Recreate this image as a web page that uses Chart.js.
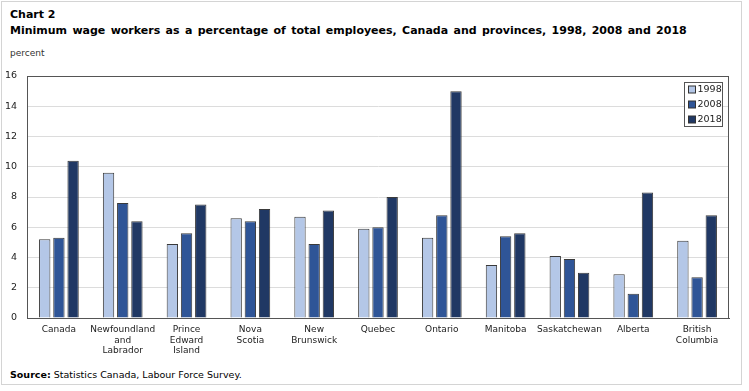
<!DOCTYPE html>
<html>
<head>
<meta charset="utf-8">
<script src="https://cdn.jsdelivr.net/npm/chart.js@4.4.1/dist/chart.umd.min.js"></script>
<style>
  html, body { margin: 0; padding: 0; background: #fff; }
  body { width: 749px; height: 391px; position: relative; overflow: hidden;
         font-family: "DejaVu Sans", Verdana, sans-serif; color: #000; }
  #frame { position: absolute; left: 1px; top: 1px; width: 739px; height: 382px; border: 1px solid #d4d4d4; }
  #chart { position: absolute; left: 0; top: 0; }
  .txt { position: absolute; left: 10px; white-space: nowrap; }
  #title1 { top: 8px; font-weight: bold; font-size: 11px; }
  #title2 { top: 24px; font-weight: bold; font-size: 11px; word-spacing: 1.5px; }
  #unit { top: 48px; font-size: 9px; color: #333; }
  #source { top: 369px; font-size: 9.5px; }
</style>
</head>
<body>
<div id="frame"></div>
<div class="txt" id="title1">Chart 2</div>
<div class="txt" id="title2">Minimum wage workers as a percentage of total employees, Canada and provinces, 1998, 2008 and 2018</div>
<div class="txt" id="unit">percent</div>
<div class="txt" id="source"><b>Source:</b> Statistics Canada, Labour Force Survey.</div>
<canvas id="chart" width="749" height="391"></canvas>
<script>
// categories, one array per wrapped label
var PROVINCES = [
  ['Canada'], ['Newfoundland', 'and', 'Labrador'], ['Prince', 'Edward', 'Island'],
  ['Nova', 'Scotia'], ['New', 'Brunswick'], ['Quebec'], ['Ontario'], ['Manitoba'],
  ['Saskatchewan'], ['Alberta'], ['British', 'Columbia']
];
var YEARS = ['1998', '2008', '2018'];
var VALUES_1998 = [5.2, 9.6, 4.9, 6.6, 6.7, 5.9, 5.3, 3.5, 4.1, 2.9, 5.1];
var VALUES_2008 = [5.3, 7.6, 5.6, 6.4, 4.9, 6.0, 6.8, 5.4, 3.9, 1.6, 2.7];
var VALUES_2018 = [10.4, 6.4, 7.5, 7.2, 7.1, 8.0, 15.0, 5.6, 3.0, 8.3, 6.8];
var Y_MIN = 0, Y_MAX = 16, Y_STEP = 2;

var COLORS = ['#B4C7E7', '#2F5597', '#203864'];
var AXIS = '#555555';

// dark box round the plot area
var plotFrame = {
  id: 'plotFrame',
  afterDatasetsDraw: function (chart) {
    var a = chart.chartArea, ctx = chart.ctx;
    ctx.save();
    ctx.strokeStyle = AXIS;
    ctx.lineWidth = 1;
    ctx.strokeRect(Math.round(a.left) + 0.5, Math.round(a.top) + 0.5,
                   Math.round(a.right - a.left) - 1, Math.round(a.bottom - a.top));
    ctx.restore();
  }
};

// legend box in the top right corner of the plot
var boxLegend = {
  id: 'boxLegend',
  afterDraw: function (chart) {
    var ctx = chart.ctx, a = chart.chartArea;
    var x = Math.round(a.right) - 44.5, y = Math.round(a.top) + 6.5;
    ctx.save();
    ctx.fillStyle = '#fff';
    ctx.strokeStyle = AXIS;
    ctx.lineWidth = 1;
    ctx.fillRect(x, y, 38, 44);
    ctx.strokeRect(x, y, 38, 44);
    ctx.font = '9.5px "DejaVu Sans"';
    ctx.textBaseline = 'middle';
    chart.data.datasets.forEach(function (ds, i) {
      var cy = y + 7 + i * 15;
      ctx.fillStyle = ds.backgroundColor;
      ctx.fillRect(x + 4, cy - 3.5, 7, 7);
      ctx.strokeStyle = '#333';
      ctx.strokeRect(x + 4, cy - 3.5, 7, 7);
      ctx.fillStyle = '#222';
      ctx.fillText(ds.label, x + 13, cy + 0.5);
    });
    ctx.restore();
  }
};

function series(label, data, i) {
  return {
    label: label, data: data,
    backgroundColor: COLORS[i], borderColor: '#3a3a3a', borderWidth: 1,
    categoryPercentage: 0.667, barPercentage: 0.8
  };
}

new Chart(document.getElementById('chart'), {
  type: 'bar',
  data: {
    labels: PROVINCES,
    datasets: [
      series(YEARS[0], VALUES_1998, 0),
      series(YEARS[1], VALUES_2008, 1),
      series(YEARS[2], VALUES_2018, 2)
    ]
  },
  options: {
    responsive: false, animation: false, devicePixelRatio: 1,
    layout: { padding: { top: 76, right: 20, left: 0, bottom: 0 } },
    plugins: { legend: { display: false }, tooltip: { enabled: false } },
    scales: {
      x: {
        grid: { display: false, drawTicks: false },
        border: { color: AXIS },
        ticks: { color: '#222', font: { family: 'DejaVu Sans', size: 9, lineHeight: 1.2 },
                 padding: 6, maxRotation: 0, autoSkip: false },
        afterFit: function (s) { s.height = 73; }
      },
      y: {
        min: Y_MIN, max: Y_MAX,
        grid: { color: '#dcdcdc', drawTicks: false },
        border: { color: AXIS },
        ticks: { stepSize: Y_STEP, color: '#222', font: { family: 'DejaVu Sans', size: 9.5 }, padding: 10 },
        afterFit: function (s) { s.width = 27; }
      }
    }
  },
  plugins: [plotFrame, boxLegend]
});
</script>
</body>
</html>
